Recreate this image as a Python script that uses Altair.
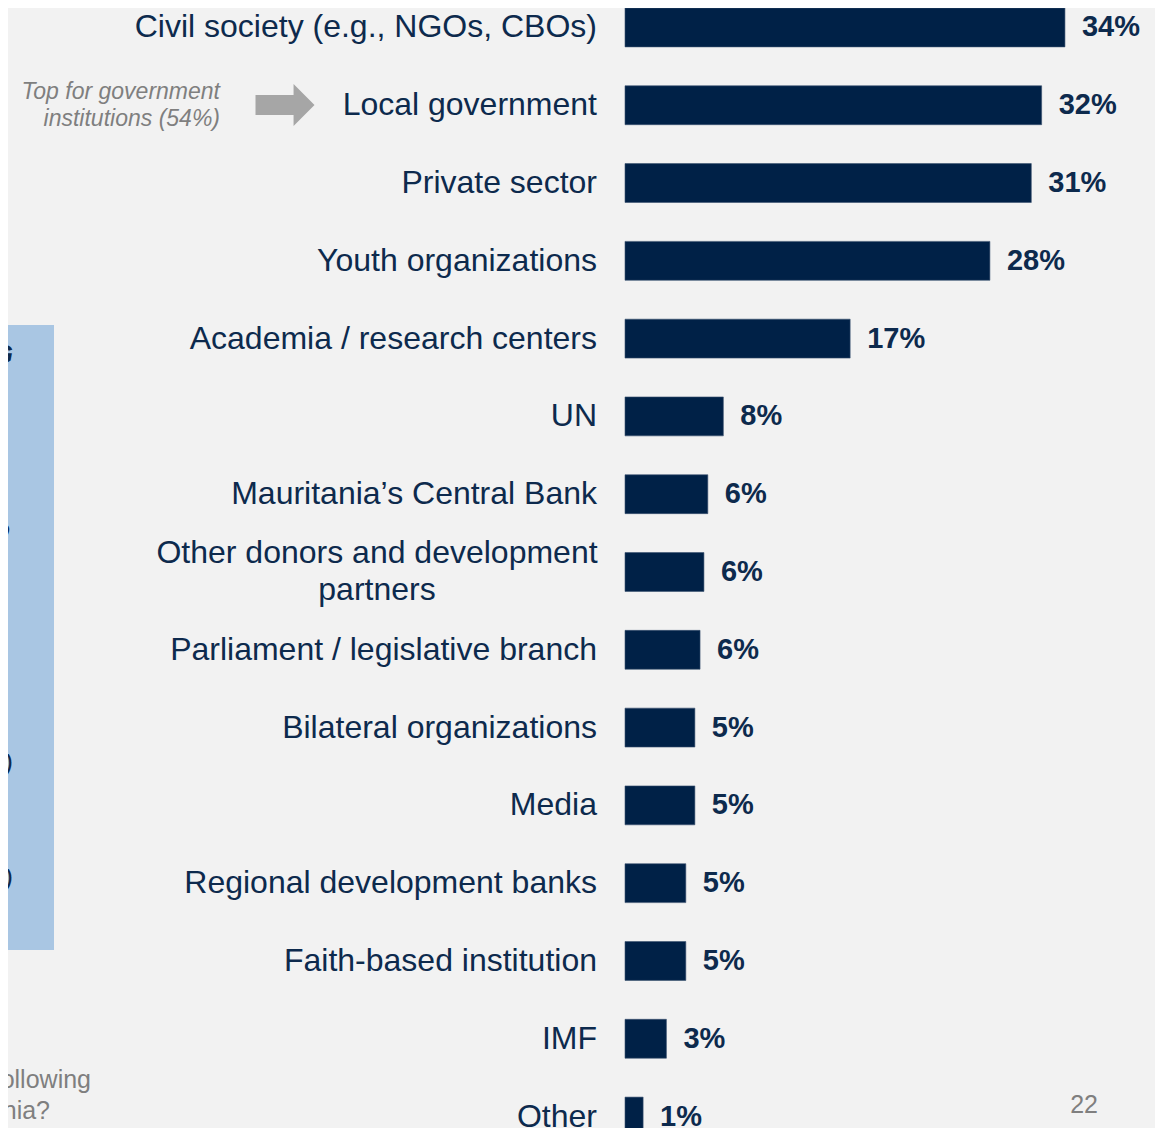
import altair as alt
import pandas as pd

# ---------------- data ----------------
categories = [
    "Civil society (e.g., NGOs, CBOs)",
    "Local government",
    "Private sector",
    "Youth organizations",
    "Academia / research centers",
    "UN",
    "Mauritania’s Central Bank",
    "Other donors and development partners",
    "Parliament / legislative branch",
    "Bilateral organizations",
    "Media",
    "Regional development banks",
    "Faith-based institution",
    "IMF",
    "Other",
]
display_labels = [
    "Civil society (e.g., NGOs, CBOs)",
    "Local government",
    "Private sector",
    "Youth organizations",
    "Academia / research centers",
    "UN",
    "Mauritania’s Central Bank",
    "Other donors and development\npartners",
    "Parliament / legislative branch",
    "Bilateral organizations",
    "Media",
    "Regional development banks",
    "Faith-based institution",
    "IMF",
    "Other",
]
values = [34.0, 32.2, 31.4, 28.2, 17.4, 7.6, 6.4, 6.1, 5.8, 5.4, 5.4, 4.7, 4.7, 3.2, 1.4]
value_labels = ["34%", "32%", "31%", "28%", "17%", "8%", "6%", "6%", "6%",
                "5%", "5%", "5%", "5%", "3%", "1%"]

annotation_lines = ["Top for government", "institutions (54%)"]
page_number = "22"
question_fragments = ["following", "Mauritania?"]
box_title_fragment = "G"
box_fragments = ["o", "r,", "t)", "t)"]

# ---------------- styles ----------------
FONT = "Liberation Sans"
NAVY = "#002147"
TEXT = "#0d2a4d"
GRAY = "#7f7f7f"
BOX = "#a9c6e3"

df = pd.DataFrame({
    "category": categories,
    "value": values,
    "label": value_labels,
    "display": display_labels,
    "multi": ["\n" in d for d in display_labels],
})

y = alt.Y("category:N", sort=categories, axis=None,
          scale=alt.Scale(paddingInner=0.5, paddingOuter=0))
x = alt.X("value:Q", axis=None, scale=alt.Scale(domain=[0, 40.96]))

base = alt.Chart(df)

bars = base.mark_bar(color=NAVY, stroke="#3a5270", strokeWidth=0.6).encode(x=x, y=y)

vals = base.mark_text(align="left", baseline="middle", dx=17, font=FONT,
                      fontSize=29, fontWeight="bold", color=TEXT).encode(
    x=x, y=y, text="label:N")

cats_single = base.transform_filter("!datum.multi").mark_text(
    align="right", baseline="middle", font=FONT, fontSize=32, color=TEXT).encode(
    x=alt.value(-28), y=y, text="display:N")

cats_multi = base.transform_filter("datum.multi").mark_text(
    align="center", baseline="middle", font=FONT, fontSize=32, color=TEXT,
    lineBreak="\n", lineHeight=37, dy=-19).encode(
    x=alt.value(-248), y=y, text="display:N")

one = alt.Chart(pd.DataFrame({"k": [0]}))


def free_text(txt, px, py, **kw):
    return one.mark_text(font=FONT, **kw).encode(
        x=alt.value(px), y=alt.value(py), text=alt.value(txt))


box = one.mark_rect(color=BOX).encode(
    x=alt.value(-617), x2=alt.value(-571), y=alt.value(317), y2=alt.value(942))

box_texts = [free_text(box_title_fragment, -612, 347, align="right", baseline="middle",
                       fontSize=26, fontWeight="bold", fontStyle="italic", color=TEXT)]
for t, px, py in zip(box_fragments, [-615, -616, -612, -612], [522, 640, 757, 872]):
    box_texts.append(free_text(t, px, py, align="right", baseline="middle",
                               fontSize=26, fontStyle="italic", color=TEXT))

arrow_path = "M -1 -0.34 L 0.29 -0.34 L 0.29 -0.71 L 1 0 L 0.29 0.71 L 0.29 0.34 L -1 0.34 Z"
arrow = one.mark_point(shape=arrow_path, filled=True, size=3481, color="#a6a6a6",
                       opacity=1, strokeWidth=0).encode(
    x=alt.value(-340), y=alt.value(97))

annot = free_text(annotation_lines, -405, 84, align="right", baseline="middle",
                  fontSize=23, fontStyle="italic", color=GRAY, lineHeight=27)

question = [
    free_text(question_fragments[0], -534, 1072, align="right", baseline="middle",
              fontSize=25, color=GRAY),
    free_text(question_fragments[1], -575, 1103, align="right", baseline="middle",
              fontSize=25, color=GRAY),
]

page = free_text(page_number, 473, 1097, align="right", baseline="middle",
                 fontSize=25, color=GRAY)

chart = alt.layer(
    bars, vals, cats_single, cats_multi,
    box, *box_texts, arrow, annot, *question, page,
).properties(
    width=530, height=1128,
    padding={"left": 617, "top": 0, "right": 0, "bottom": 0},
    autosize=alt.AutoSizeParams(type="none"),
).configure(background="#f2f2f2", font=FONT).configure_view(stroke=None)

chart.save("out.html", embed_options={"renderer": "svg", "actions": False})
